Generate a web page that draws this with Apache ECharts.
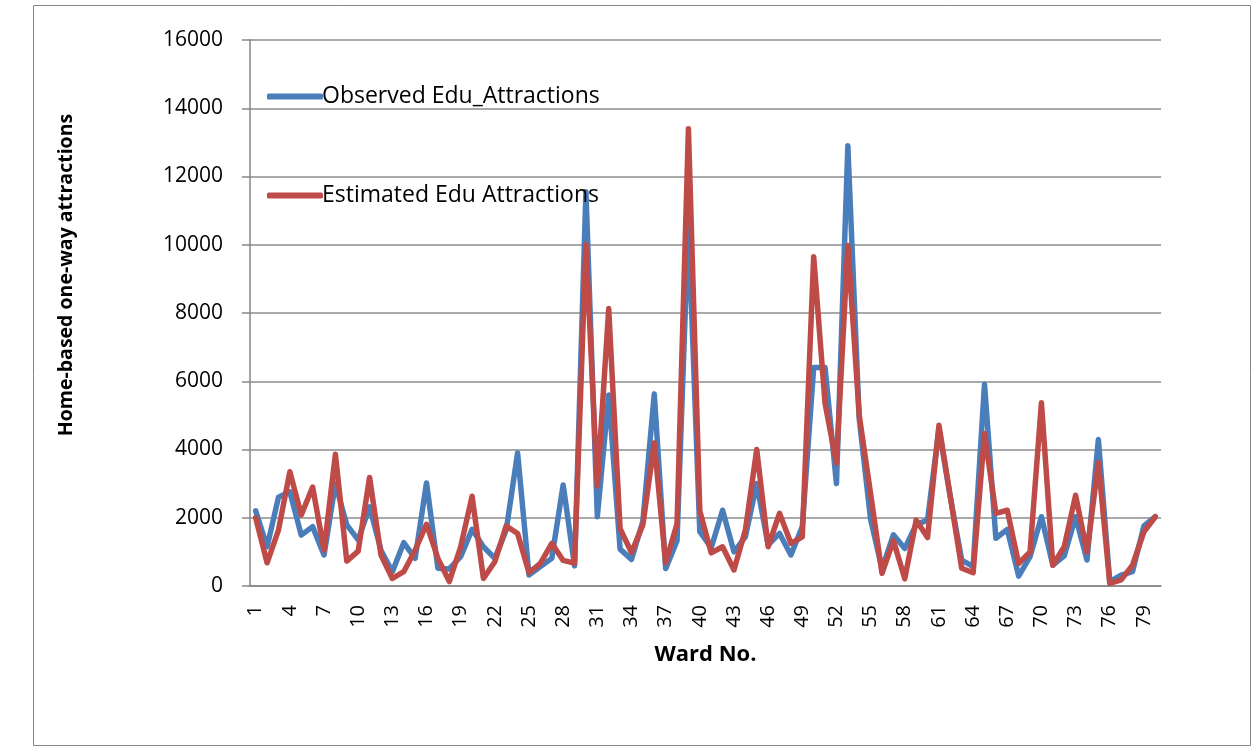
<!DOCTYPE html>
<html>
<head>
<meta charset="utf-8">
<script src="https://cdn.jsdelivr.net/npm/echarts@6/dist/echarts.min.js"></script>
<style>
  html, body { margin: 0; padding: 0; background: #fff; }
  #chart { width: 1255px; height: 751px; }
</style>
</head>
<body>
<div id="chart"></div>
<script>
// ward numbers 1..80
var wards = [];
for (var w = 1; w <= 80; w++) { wards.push(String(w)); }

var observed = [
  2200, 1150, 2600, 2760, 1490, 1740, 910, 3000, 1790, 1350,
  2320, 1050, 420, 1270, 810, 3020, 520, 500, 860, 1660,
  1150, 810, 1640, 3900, 320, 570, 810, 2960, 590, 11550,
  2030, 5600, 1080, 780, 1900, 5630, 510, 1330, 10600, 1590,
  1120, 2220, 1000, 1440, 3000, 1200, 1540, 910, 1740, 6400,
  6400, 3000, 12900, 4900, 1950, 500, 1500, 1100, 1800, 1930,
  4610, 2600, 760, 570, 5910, 1400, 1660, 290, 860, 2030,
  610, 880, 2030, 760, 4290, 130, 320, 420, 1760, 2030
];

var estimated = [
  2000, 680, 1640, 3350, 2080, 2900, 1050, 3860, 730, 1020,
  3180, 910, 220, 420, 1050, 1810, 810, 130, 1150, 2630,
  220, 710, 1760, 1540, 390, 660, 1250, 750, 670, 10000,
  2930, 8130, 1680, 980, 1790, 4190, 680, 1820, 13400, 2200,
  970, 1150, 470, 1640, 4000, 1150, 2130, 1250, 1440, 9650,
  5350, 3600, 9980, 5000, 2700, 370, 1330, 210, 1930, 1420,
  4710, 2610, 520, 390, 4470, 2130, 2220, 660, 1000, 5370,
  610, 1150, 2660, 1000, 3610, 80, 180, 610, 1590, 2030
];

var yTicks = [0, 2000, 4000, 6000, 8000, 10000, 12000, 14000, 16000];

var chart = echarts.init(document.getElementById('chart'));
var font = '"Open Sans", "Noto Sans", sans-serif';

var option = {
  animation: false,
  textStyle: { fontFamily: font },
  grid: { left: 250, top: 40, right: 94, bottom: 165 },
  legend: {
    orient: 'vertical',
    left: 262,
    top: 80,
    itemGap: 76,
    itemWidth: 56,
    itemHeight: 6,
    icon: 'roundRect',
    textStyle: { fontSize: 23, color: '#000', fontFamily: font, padding: [0, 0, 0, -6] },
    data: ['Observed Edu_Attractions', 'Estimated Edu Attractions']
  },
  xAxis: {
    type: 'category',
    data: wards,
    boundaryGap: true,
    name: 'Ward No.',
    nameLocation: 'middle',
    nameGap: 58,
    nameTextStyle: { fontSize: 22, fontWeight: 'bold', color: '#000', fontFamily: font },
    axisLine: { lineStyle: { color: '#868686', width: 1.5 } },
    axisTick: { show: false },
    axisLabel: {
      interval: 2,
      rotate: 90,
      margin: 19,
      fontSize: 20,
      color: '#000',
      fontFamily: font
    }
  },
  yAxis: {
    type: 'value',
    min: yTicks[0],
    max: yTicks[yTicks.length - 1],
    interval: 2000,
    axisLine: { show: true, lineStyle: { color: '#868686', width: 1.5 } },
    axisTick: { show: true, length: 8, lineStyle: { color: '#868686', width: 1.5 } },
    axisLabel: {
      margin: 27,
      fontSize: 21,
      color: '#000',
      fontFamily: font,
      formatter: function (v) { return String(v); }
    },
    splitLine: { lineStyle: { color: '#8c8c8c', width: 1.5 } }
  },
  graphic: [
    {
      type: 'rect',
      shape: { x: 33.5, y: 5.5, width: 1217, height: 740 },
      style: { fill: 'none', stroke: '#868686', lineWidth: 1 },
      silent: true
    },
    {
      type: 'text',
      x: 66,
      y: 275,
      rotation: Math.PI / 2,
      style: {
        text: 'Home-based one-way attractions',
        fontSize: 19.5,
        fontWeight: 'bold',
        fontFamily: font,
        fill: '#000',
        align: 'center',
        verticalAlign: 'middle'
      }
    }
  ],
  series: [
    {
      name: 'Observed Edu_Attractions',
      type: 'line',
      data: observed,
      symbol: 'none',
      color: '#4a7ebb',
      lineStyle: { width: 5.5, color: '#4a7ebb', cap: 'round', join: 'round' }
    },
    {
      name: 'Estimated Edu Attractions',
      type: 'line',
      data: estimated,
      symbol: 'none',
      color: '#be4b48',
      lineStyle: { width: 5.5, color: '#be4b48', cap: 'round', join: 'round' }
    }
  ]
};

chart.setOption(option);
</script>
</body>
</html>
